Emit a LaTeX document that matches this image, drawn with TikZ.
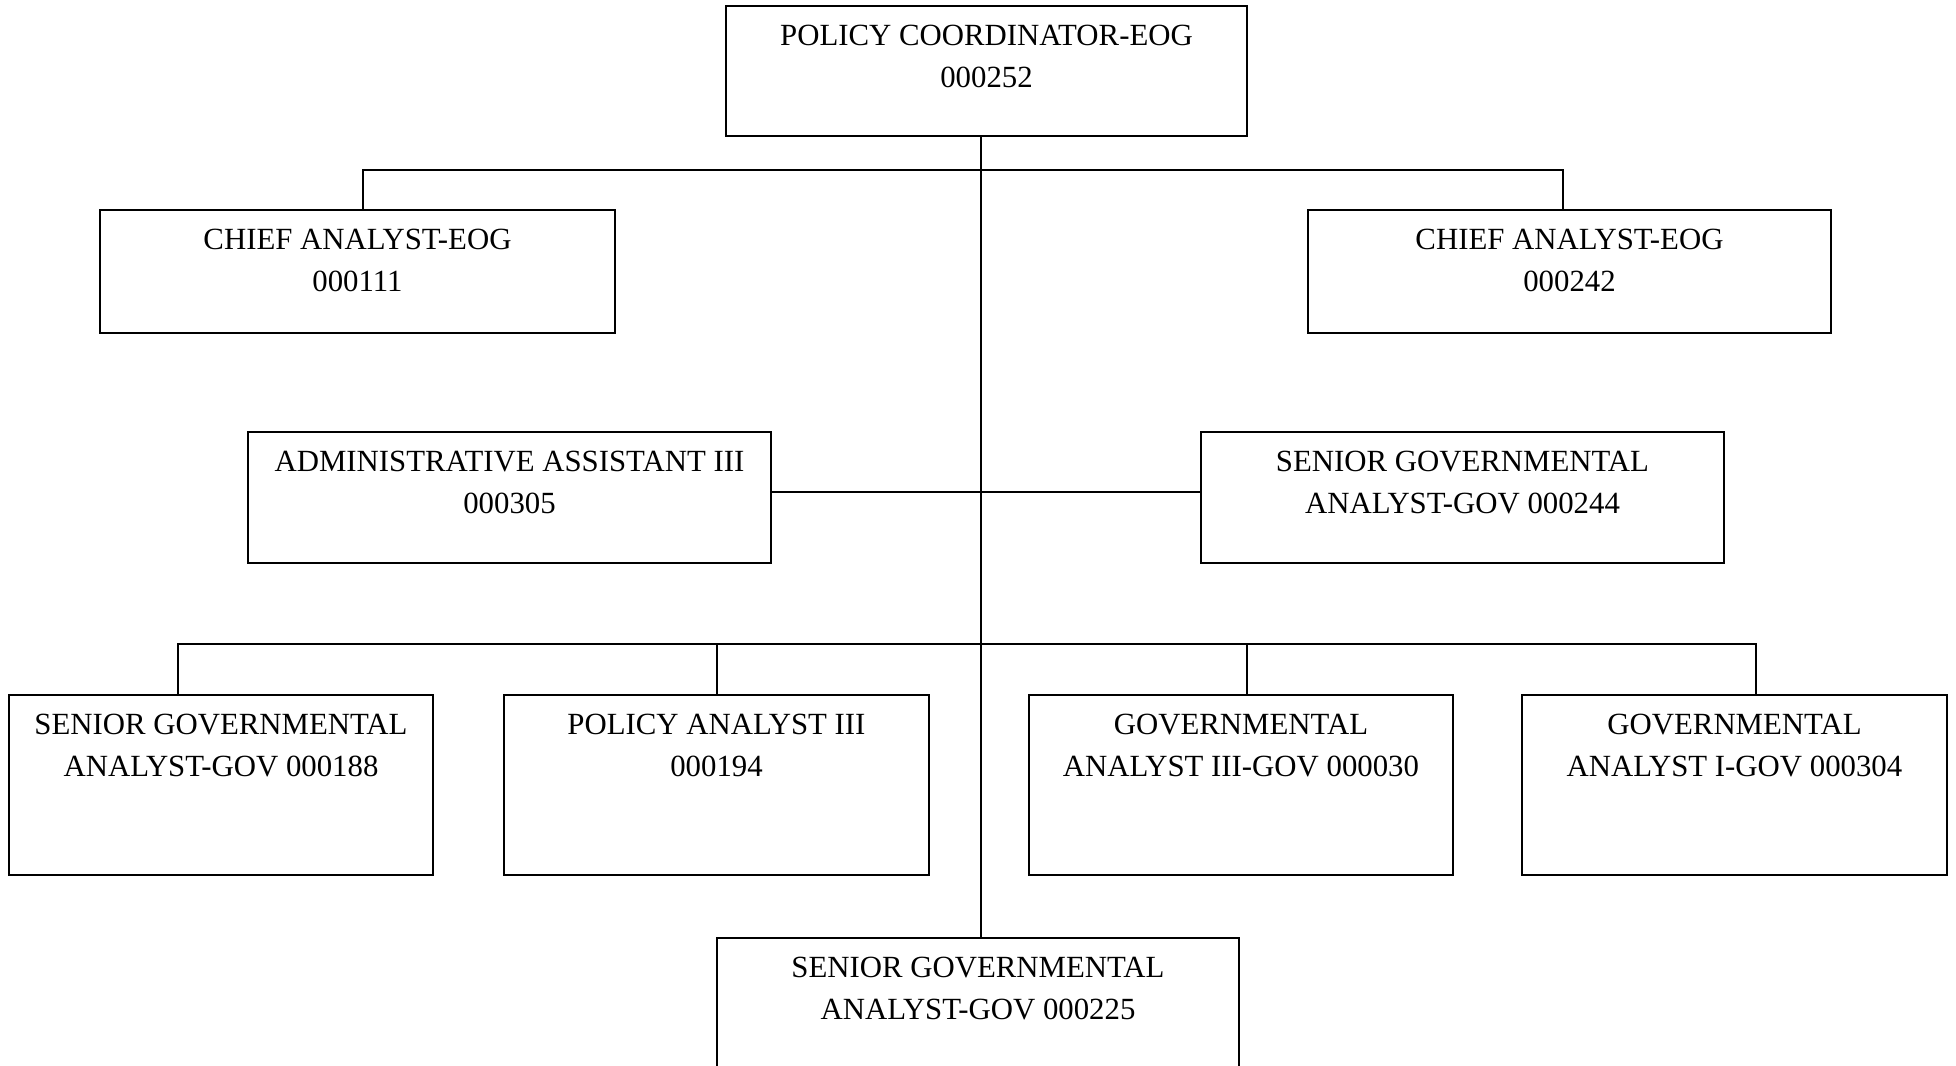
\documentclass[tikz,border=0pt]{standalone}
\usepackage{fontspec}
\setmainfont{Liberation Serif}
\begin{document}
\begin{tikzpicture}[x=0.5pt,y=-0.5pt,
  box/.style={draw=black, line width=1pt, inner sep=0pt},
  lbl/.style={font=\fontsize{15.4pt}{21.2pt}\selectfont, align=center, anchor=north, inner sep=0pt},
  wire/.style={draw=black, line width=1pt}]
\clip (0,0) rectangle (1956,1066);
\useasboundingbox (0,0) rectangle (1956,1066);

% position boxes
\node[box, minimum width=260.5pt, minimum height=65pt]   (pc)    at (986.5,71)    {};
\node[box, minimum width=257.5pt, minimum height=61.5pt] (caL)   at (357.5,271.5) {};
\node[box, minimum width=261.5pt, minimum height=61.5pt] (caR)   at (1569.5,271.5){};
\node[box, minimum width=261.5pt, minimum height=65.5pt] (aa)    at (509.5,497.5) {};
\node[box, minimum width=261.5pt, minimum height=65.5pt] (sg244) at (1462.5,497.5){};
\node[box, minimum width=212pt,   minimum height=90pt]   (sg188) at (221,785)     {};
\node[box, minimum width=212.5pt, minimum height=90pt]   (pa194) at (716.5,785)   {};
\node[box, minimum width=212pt,   minimum height=90pt]   (ga030) at (1241,785)    {};
\node[box, minimum width=212.5pt, minimum height=90pt]   (ga304) at (1734.5,785)  {};
\node[box, minimum width=261pt,   minimum height=100pt]  (sg225) at (978,1038)    {};

% titles
\node[lbl] (pcT)    at ([yshift=-9.8pt]pc.north)    {POLICY COORDINATOR-EOG\\000252};
\node[lbl] (caLT)   at ([yshift=-9.8pt]caL.north)   {CHIEF ANALYST-EOG\\000111};
\node[lbl] (caRT)   at ([yshift=-9.8pt]caR.north)   {CHIEF ANALYST-EOG\\000242};
\node[lbl] (aaT)    at ([yshift=-9.8pt]aa.north)    {ADMINISTRATIVE ASSISTANT III\\000305};
\node[lbl] (sg244T) at ([yshift=-9.8pt]sg244.north) {SENIOR GOVERNMENTAL\\ANALYST-GOV 000244};
\node[lbl] (sg188T) at ([yshift=-9.8pt]sg188.north) {SENIOR GOVERNMENTAL\\ANALYST-GOV 000188};
\node[lbl] (pa194T) at ([yshift=-9.8pt]pa194.north) {POLICY ANALYST III\\000194};
\node[lbl] (ga030T) at ([yshift=-9.8pt]ga030.north) {GOVERNMENTAL\\ANALYST III-GOV 000030};
\node[lbl] (ga304T) at ([yshift=-9.8pt]ga304.north) {GOVERNMENTAL\\ANALYST I-GOV 000304};
\node[lbl] (sg225T) at ([yshift=-9.8pt]sg225.north) {SENIOR GOVERNMENTAL\\ANALYST-GOV 000225};

% routing points
\coordinate (trunk) at (980.5,170);
\coordinate (b1l) at (363,170);
\coordinate (b1r) at (1563,170);
\coordinate (lk)  at (980.5,491.5);
\coordinate (b2a) at (178,644);
\coordinate (b2b) at (717,644);
\coordinate (b2c) at (1247,644);
\coordinate (b2d) at (1756,644);

% connectors
\draw[wire] (pc.south -| trunk) -- (sg225.north -| trunk);
\draw[wire] (caL.north -| b1l) |- (b1r) -- (caR.north -| b1r);
\draw[wire] (aa.east |- lk) -- (sg244.west |- lk);
\draw[wire] (sg188.north -| b2a) |- (b2d) -- (ga304.north -| b2d);
\draw[wire] (pa194.north -| b2b) -- (b2b);
\draw[wire] (ga030.north -| b2c) -- (b2c);
\end{tikzpicture}
\end{document}
